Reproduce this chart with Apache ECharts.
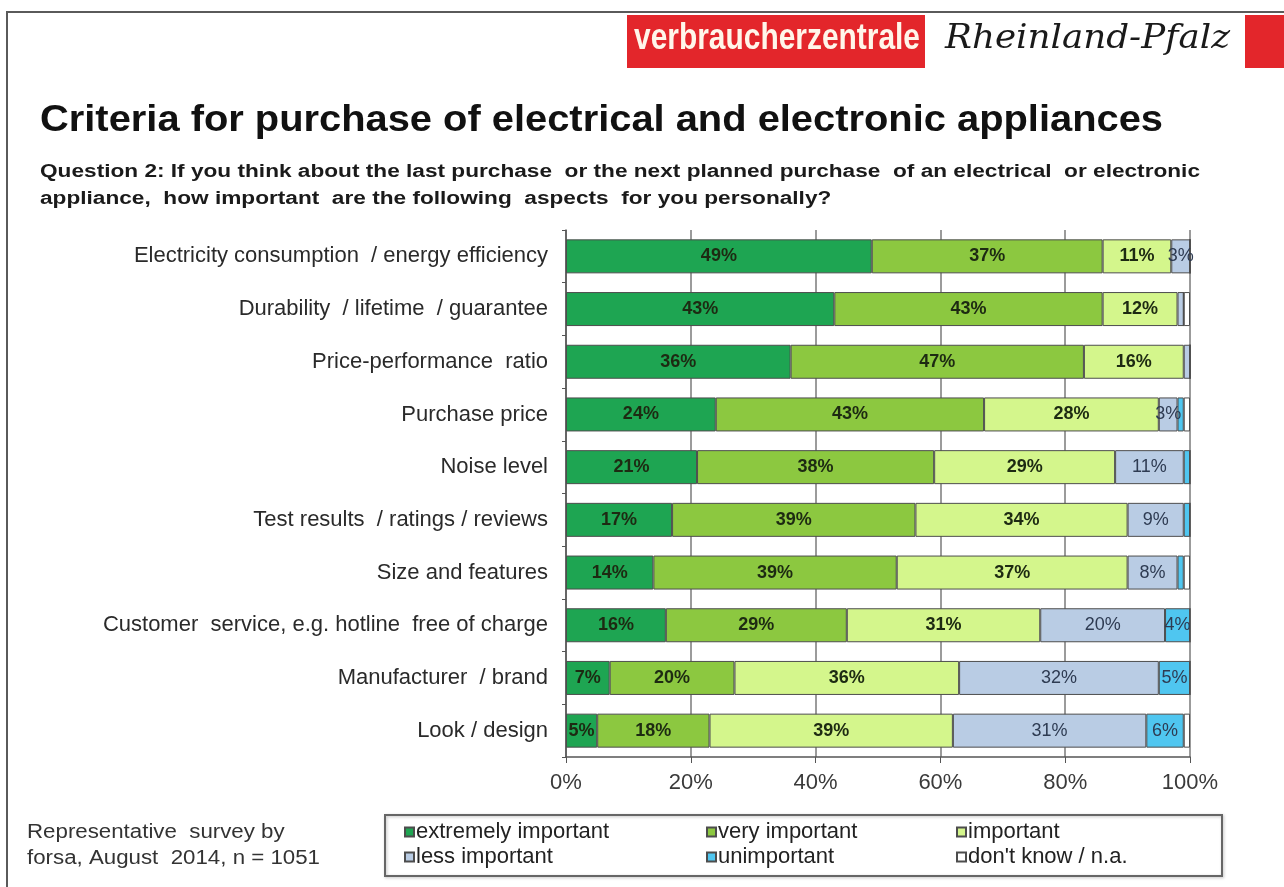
<!DOCTYPE html>
<html>
<head>
<meta charset="utf-8">
<script src="https://cdn.jsdelivr.net/npm/echarts@6/dist/echarts.min.js"></script>
<style>
  html, body { margin: 0; padding: 0; background: #fff; }
  #chart { width: 1284px; height: 887px; }
</style>
</head>
<body>
<div id="chart"></div>
<script>
// Survey aspects, top to bottom
const categories = [
  'Electricity consumption  / energy efficiency',
  'Durability  / lifetime  / guarantee',
  'Price-performance  ratio',
  'Purchase price',
  'Noise level',
  'Test results  / ratings / reviews',
  'Size and features',
  'Customer  service, e.g. hotline  free of charge',
  'Manufacturer  / brand',
  'Look / design'
];

// Shares in percent per answer
const extremelyImportant = [49, 43, 36, 24, 21, 17, 14, 16, 7, 5];
const veryImportant      = [37, 43, 47, 43, 38, 39, 39, 29, 20, 18];
const important          = [11, 12, 16, 28, 29, 34, 37, 31, 36, 39];
const lessImportant      = [3, 1, 1, 3, 11, 9, 8, 20, 32, 31];
const unimportant        = [0, 0, 0, 1, 1, 1, 1, 4, 5, 6];
const dontKnow           = [0, 1, 0, 1, 0, 0, 1, 0, 0, 1];

const seriesNames = ['extremely important', 'very important', 'important',
                     'less important', 'unimportant', "don't know / n.a."];
const seriesData = [extremelyImportant, veryImportant, important,
                    lessImportant, unimportant, dontKnow];
const seriesColors = ['#1ea552', '#8cc840', '#d4f68c', '#b9cce4', '#4fc6f0', '#ffffff'];
const labelColors = ['#1d2a12', '#1d2a12', '#1d2a12', '#2e3b52', '#2e3b52', '#333'];
const labelWeights = ['bold', 'bold', 'bold', 'normal', 'normal', 'normal'];

const xTicks = [0, 20, 40, 60, 80, 100];

const titleText = 'Criteria for purchase of electrical and electronic appliances';
const questionLines = [
  'Question 2: If you think about the last purchase  or the next planned purchase  of an electrical  or electronic',
  'appliance,  how important  are the following  aspects  for you personally?'
];
const sourceLines = ['Representative  survey by', 'forsa, August  2014, n = 1051'];

const FONT = '"Liberation Sans", Arial, sans-serif';

// Horizontal stretch needed for a text run to span a given width
const measureCtx = document.createElement('canvas').getContext('2d');
function stretch(text, font, width) {
  measureCtx.font = font;
  return width / measureCtx.measureText(text).width;
}

const chart = echarts.init(document.getElementById('chart'), null, { renderer: 'canvas' });

const series = seriesNames.map((name, i) => ({
  name: name,
  type: 'bar',
  stack: 'total',
  barWidth: 34,
  data: seriesData[i],
  itemStyle: { color: seriesColors[i], borderColor: '#4d4d4d', borderWidth: 1 },
  label: {
    show: true,
    position: 'inside',
    color: labelColors[i],
    fontWeight: labelWeights[i],
    fontFamily: FONT,
    fontSize: 18,
    formatter: p => (p.value >= 3 ? p.value + '%' : '')
  },
  emphasis: { disabled: true }
}));

// One legend block per entry so that columns line up
const legendPos = [
  [404, 821], [706, 821], [956, 821],
  [404, 846], [706, 846], [956, 846]
];
const legends = seriesNames.map((name, i) => ({
  data: [name],
  left: legendPos[i][0],
  top: legendPos[i][1],
  icon: 'rect',
  itemWidth: 9,
  itemHeight: 9,
  itemGap: 0,
  padding: 0,
  selectedMode: false,
  textStyle: { fontSize: 22, color: '#222', fontFamily: FONT, padding: [0, 0, 0, -3] }
}));

const titleFont = 'bold 37px ' + FONT;
const questionFont = 'bold 18px ' + FONT;
const sourceFont = '19.5px ' + FONT;
const logoFont = 'bold 36px "Liberation Sans Narrow", "Liberation Sans", sans-serif';
const scriptFont = 'italic 34px "DejaVu Serif", "Liberation Serif", serif';

const titleScale = stretch(titleText, titleFont, 1123);
const questionScale = stretch(questionLines[0], questionFont, 1160);
const sourceScale = stretch(sourceLines[1], sourceFont, 293);
const logoScale = stretch('verbraucherzentrale', logoFont, 286);
const scriptScale = stretch('Rheinland-Pfalz', scriptFont, 285);

const option = {
  animation: false,
  backgroundColor: '#fff',
  textStyle: { fontFamily: FONT },
  grid: { left: 566, right: 94, top: 230, bottom: 130, containLabel: false },
  xAxis: {
    type: 'value',
    min: 0,
    max: 100,
    interval: 20,
    axisLine: { show: true, lineStyle: { color: '#555', width: 1.5 } },
    axisTick: { show: true, length: 6, lineStyle: { color: '#555' } },
    axisLabel: {
      formatter: v => (xTicks.indexOf(v) >= 0 ? v + '%' : ''),
      fontSize: 22,
      color: '#3a3a3a',
      margin: 15
    },
    splitLine: { show: true, lineStyle: { color: '#7a7a7a', width: 1.5 } }
  },
  yAxis: {
    type: 'category',
    inverse: true,
    data: categories,
    axisLine: { show: true, lineStyle: { color: '#555', width: 1.5 } },
    axisTick: { show: true, length: 4, lineStyle: { color: '#555' } },
    axisLabel: { fontSize: 22, color: '#2a2a2a', margin: 18 }
  },
  legend: legends,
  series: series,
  graphic: [
    // page frame
    { type: 'polyline', shape: { points: [[7, 887], [7, 12], [1284, 12]] },
      style: { stroke: '#5a5a5a', lineWidth: 2, fill: null }, silent: true },
    // header logo
    { type: 'rect', shape: { x: 627, y: 15, width: 298, height: 53 },
      style: { fill: '#e3262b' }, silent: true },
    { type: 'rect', shape: { x: 1245, y: 15, width: 39, height: 53 },
      style: { fill: '#e3262b' }, silent: true },
    { type: 'text', x: 634, y: 21, scaleX: logoScale,
      style: { text: 'verbraucherzentrale', fill: '#fff6ea', font: logoFont } },
    { type: 'text', x: 945, y: 22, scaleX: scriptScale,
      style: { text: 'Rheinland-Pfalz', fill: '#1a1a1a', font: scriptFont } },
    // headings
    { type: 'text', x: 40, y: 102, scaleX: titleScale,
      style: { text: titleText, fill: '#111', font: titleFont } },
    { type: 'text', x: 40, y: 159, scaleX: questionScale,
      style: { text: questionLines.join('\n'), fill: '#1a1a1a', lineHeight: 27, font: questionFont } },
    // source note
    { type: 'text', x: 27, y: 820, scaleX: sourceScale,
      style: { text: sourceLines.join('\n'), fill: '#333', lineHeight: 26, font: sourceFont } },
    // legend frame
    { type: 'rect', shape: { x: 385, y: 815, width: 837, height: 61 },
      style: { fill: null, stroke: '#666', lineWidth: 2,
        shadowColor: 'rgba(0,0,0,0.25)', shadowBlur: 3, shadowOffsetX: 1, shadowOffsetY: 1 },
      z: -1, silent: true }
  ]
};

chart.setOption(option);
</script>
</body>
</html>
